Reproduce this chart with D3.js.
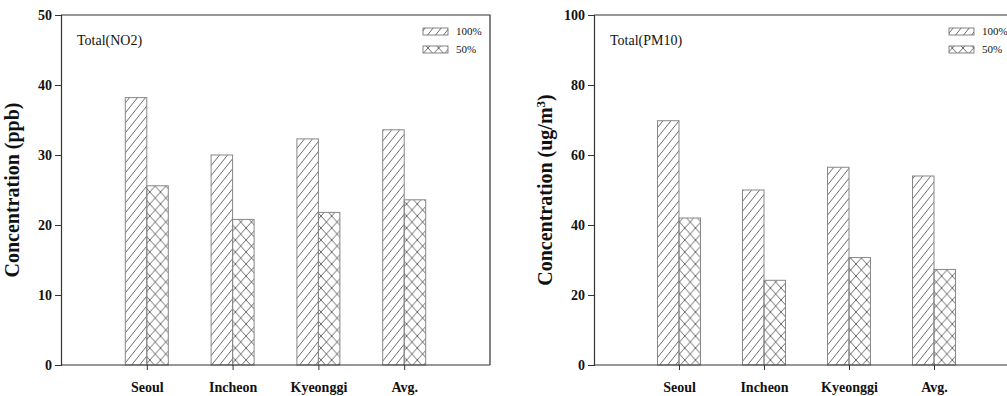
<!DOCTYPE html>
<html>
<head>
<meta charset="utf-8">
<script src="https://cdn.jsdelivr.net/npm/d3@7"></script>
<style>
  body { margin: 0; background: #fff; }
  svg text { font-family: "Liberation Serif", "Times New Roman", serif; fill: #111; }
</style>
</head>
<body>
<div id="chart"></div>
<script>
// data
const regions = ['Seoul', 'Incheon', 'Kyeonggi', 'Avg.'];
const scenarios = ['100%', '50%'];
const no2Full = [38.2, 30.0, 32.3, 33.6];
const no2Half = [25.6, 20.8, 21.8, 23.6];
const pm10Full = [69.8, 50.0, 56.5, 54.0];
const pm10Half = [42.0, 24.2, 30.7, 27.3];
const no2Ticks = [0, 10, 20, 30, 40, 50];
const pm10Ticks = [0, 20, 40, 60, 80, 100];

const W = 1007, H = 396;
const svg = d3.select('#chart').append('svg').attr('width', W).attr('height', H);

// hatch patterns
const defs = svg.append('defs');
const diag = defs.append('pattern')
  .attr('id', 'diag').attr('patternUnits', 'userSpaceOnUse')
  .attr('width', 8).attr('height', 10);
diag.append('path').attr('d', 'M-2,12 L10,-3 M-10,12 L2,-3 M6,12 L18,-3')
  .attr('stroke', '#444').attr('stroke-width', 0.8);

const cross = defs.append('pattern')
  .attr('id', 'cross').attr('patternUnits', 'userSpaceOnUse')
  .attr('width', 10.7).attr('height', 12);
cross.append('path').attr('d', 'M0,0 L10.7,12 M10.7,0 L0,12')
  .attr('stroke', '#444').attr('stroke-width', 0.8);

const fills = ['url(#diag)', 'url(#cross)'];

function drawPanel(opts) {
  const { left, right, top, bottom, ymax, ticks, full, half, title, yLabel, legendX } = opts;
  const g = svg.append('g');

  const x = d3.scaleLinear().domain([0, 5]).range([left, right]);
  const y = d3.scaleLinear().domain([0, ymax]).range([bottom, top]);
  const bw = 21.5;

  // frame (top + right)
  g.append('path')
    .attr('d', `M${left},${top} L${right},${top} L${right},${bottom}`)
    .attr('fill', 'none').attr('stroke', '#333').attr('stroke-width', 1.2);

  // bars
  regions.forEach((r, i) => {
    [full[i], half[i]].forEach((v, k) => {
      g.append('rect')
        .attr('x', x(i + 1) + (k === 0 ? -bw : 0)).attr('y', y(v))
        .attr('width', bw).attr('height', y(0) - y(v))
        .attr('fill', fills[k])
        .attr('stroke', '#888').attr('stroke-width', 1);
    });
  });

  // axes
  const yAxis = d3.axisLeft(y).tickValues(ticks).tickSize(6).tickPadding(3);
  const ya = g.append('g').attr('transform', `translate(${left},0)`).call(yAxis)
    .attr('font-family', '"Liberation Serif", serif');
  ya.select('.domain').attr('stroke', '#333').attr('stroke-width', 1.2);
  ya.selectAll('.tick line').attr('stroke', '#333');
  ya.selectAll('.tick text').attr('font-size', 14).attr('font-weight', 'bold');

  const xAxis = d3.axisBottom(x).tickValues([1, 2, 3, 4]).tickSize(5).tickPadding(12)
    .tickFormat(d => regions[d - 1]);
  const xa = g.append('g').attr('transform', `translate(0,${bottom})`).call(xAxis)
    .attr('font-family', '"Liberation Serif", serif');
  xa.select('.domain').attr('d', `M${left},0 L${right},0`).attr('stroke', '#333').attr('stroke-width', 1.2);
  xa.selectAll('.tick line').attr('stroke', '#333');
  xa.selectAll('.tick text').attr('font-size', 14).attr('font-weight', 'bold');

  // panel title
  g.append('text').attr('x', left + 16).attr('y', top + 30)
    .attr('font-size', 14).text(title);

  // y label
  const yl = g.append('text')
    .attr('transform', `translate(${left - 42},${(top + bottom) / 2}) rotate(-90)`)
    .attr('text-anchor', 'middle').attr('font-size', 20).attr('font-weight', 'bold');
  yLabel(yl);

  // legend
  scenarios.forEach((s, k) => {
    const ly = top + 13 + k * 18;
    g.append('rect').attr('x', legendX).attr('y', ly)
      .attr('width', 25).attr('height', 7)
      .attr('fill', fills[k]).attr('stroke', '#666').attr('stroke-width', 0.8);
    g.append('text').attr('x', legendX + 33).attr('y', ly + 7)
      .attr('font-size', 11).text(s);
  });
}

drawPanel({
  left: 61, right: 490, top: 15, bottom: 365, ymax: 50, ticks: no2Ticks,
  full: no2Full, half: no2Half, title: 'Total(NO2)', legendX: 423,
  yLabel: t => t.text('Concentration (ppb)')
});

drawPanel({
  left: 594, right: 1019, top: 15, bottom: 365, ymax: 100, ticks: pm10Ticks,
  full: pm10Full, half: pm10Half, title: 'Total(PM10)', legendX: 949,
  yLabel: t => {
    t.append('tspan').text('Concentration (ug/m');
    t.append('tspan').attr('baseline-shift', 'super').attr('font-size', 13).text('3');
    t.append('tspan').text(')');
  }
});
</script>
</body>
</html>
